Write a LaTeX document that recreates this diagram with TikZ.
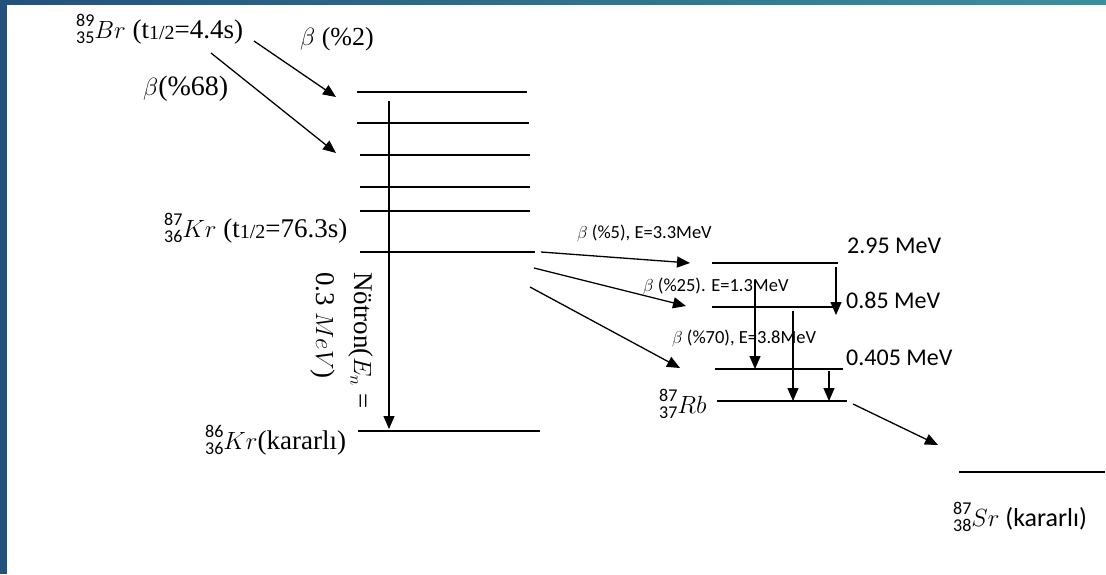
\documentclass[tikz,border=0pt]{standalone}
\usepackage{fontspec}
\setmainfont{Liberation Serif}
\newfontfamily\carl{Carlito}
\usetikzlibrary{arrows.meta}
\definecolor{bandL}{HTML}{24517B}
\definecolor{bandR}{HTML}{3D8F9C}
\newcommand\isonum{\carl\fontsize{18}{18}\selectfont}
\newcommand\iso[3]{\mbox{\makebox[0pt][l]{\raisebox{12pt}{\isonum #1}}\raisebox{-5pt}{\isonum #2}$#3$}}
\newcommand\thalf{t\raisebox{-1pt}{\fontsize{20}{20}\selectfont 1/2}}
\begin{document}
\begin{tikzpicture}[x=1pt,y=-1pt,
  lvl/.style={line width=1.3pt},
  arr/.style={line width=1.3pt,-{Triangle[length=13pt,width=11pt]}},
  big/.style={inner sep=0pt,anchor=base west,font=\fontsize{27}{32}\selectfont},
  mev/.style={inner sep=0pt,anchor=base west,font=\carl\fontsize{24}{28}\selectfont},
  small/.style={inner sep=0pt,anchor=base west,font=\carl\fontsize{18.5}{22}\selectfont}]
\useasboundingbox (0,0) rectangle (1106,574);
\shade[left color=bandL,right color=bandR] (0,0) rectangle (1106,4);
\fill[bandL] (0,0) rectangle (7,574);

% labels
\node[big] (br) at (76,38) {\iso{89}{35}{Br} (\thalf=4.4s)};
\node[big,font=\fontsize{26}{30}\selectfont] (b2) at (300,45) {$\beta$ (\%2)};
\node[big,font=\fontsize{28}{32}\selectfont] (b68) at (143,95) {$\beta$(\%68)};
\node[big] (kr87) at (164,237) {\iso{87}{36}{Kr} (\thalf=76.3s)};
\node[big] (kr86) at (205,449) {\iso{86}{36}{Kr}(kararlı)};
\node[big,rotate=-90,anchor=north west,align=left,font=\fontsize{27}{38}\selectfont] (nt) at (373,272) {Nötron($E_n$ =\\0.3 $MeV$)};
\node[big,font=\fontsize{24}{28}\selectfont] (rb) at (659,413) {\iso{87}{37}{Rb}};
\node[big,font=\carl\fontsize{26}{30}\selectfont] (sr) at (953,526) {\iso{87}{38}{Sr} (kararlı)};
\node[mev] (e1) at (847,253) {2.95 MeV};
\node[mev] (e2) at (846,308) {0.85 MeV};
\node[mev] (e3) at (846,365) {0.405 MeV};
\node[small] (s5) at (577,238) {$\beta$ (\%5), E=3.3MeV};
\node[small] (s25) at (643,291) {$\beta$ (\%25). E=1.3MeV};
\node[small] (s70) at (672,343) {$\beta$ (\%70), E=3.8MeV};

% Kr levels
\coordinate (k1a) at (357,92);  \coordinate (k1b) at (527,92);
\coordinate (k2a) at (357,123); \coordinate (k2b) at (529,123);
\coordinate (k3a) at (360,155); \coordinate (k3b) at (530,155);
\coordinate (k4a) at (360,187); \coordinate (k4b) at (530,187);
\coordinate (k5a) at (360,211); \coordinate (k5b) at (530,211);
\coordinate (k6a) at (360,252); \coordinate (k6b) at (535,252);
\coordinate (k7a) at (358,431); \coordinate (k7b) at (540,431);
\foreach \i in {1,...,7} \draw[lvl] (k\i a) -- (k\i b);
% Rb levels
\coordinate (r1a) at (712,263); \coordinate (r1b) at (838,263);
\coordinate (r2a) at (712,307); \coordinate (r2b) at (838,307);
\coordinate (r3a) at (715,369); \coordinate (r3b) at (843,369);
\coordinate (r4a) at (717,401); \coordinate (r4b) at (847,401);
\foreach \i in {1,...,4} \draw[lvl] (r\i a) -- (r\i b);
\coordinate (sra) at (959,472); \coordinate (srb) at (1105,472);
\draw[lvl] (sra) -- (srb);

% arrow ends
\coordinate (a1s) at (254,41);  \coordinate (a1e) at (336,97);
\coordinate (a2s) at (211,53);  \coordinate (a2e) at (336,153);
\coordinate (ns) at (389,101);  \coordinate (ne) at (389,429);
\coordinate (b1s) at (541,252); \coordinate (b1e) at (690,263);
\coordinate (b2s) at (534,268); \coordinate (b2e) at (686,306);
\coordinate (b3s) at (530,287); \coordinate (b3e) at (680,368);
\coordinate (g1s) at (836,267); \coordinate (g1e) at (836,315);
\coordinate (g2s) at (755,280); \coordinate (g2e) at (755,369);
\coordinate (g3s) at (793,311); \coordinate (g3e) at (793,401);
\coordinate (g4s) at (829,371); \coordinate (g4e) at (829,401);
\coordinate (ss) at (853,404);  \coordinate (se) at (938,445);

\foreach \p in {a1,a2,b1,b2,b3,g1,g2,g3,g4} \draw[arr] (\p s) -- (\p e);
\draw[arr] (ns) -- (ne);
\draw[arr] (ss) -- (se);
\end{tikzpicture}
\end{document}
